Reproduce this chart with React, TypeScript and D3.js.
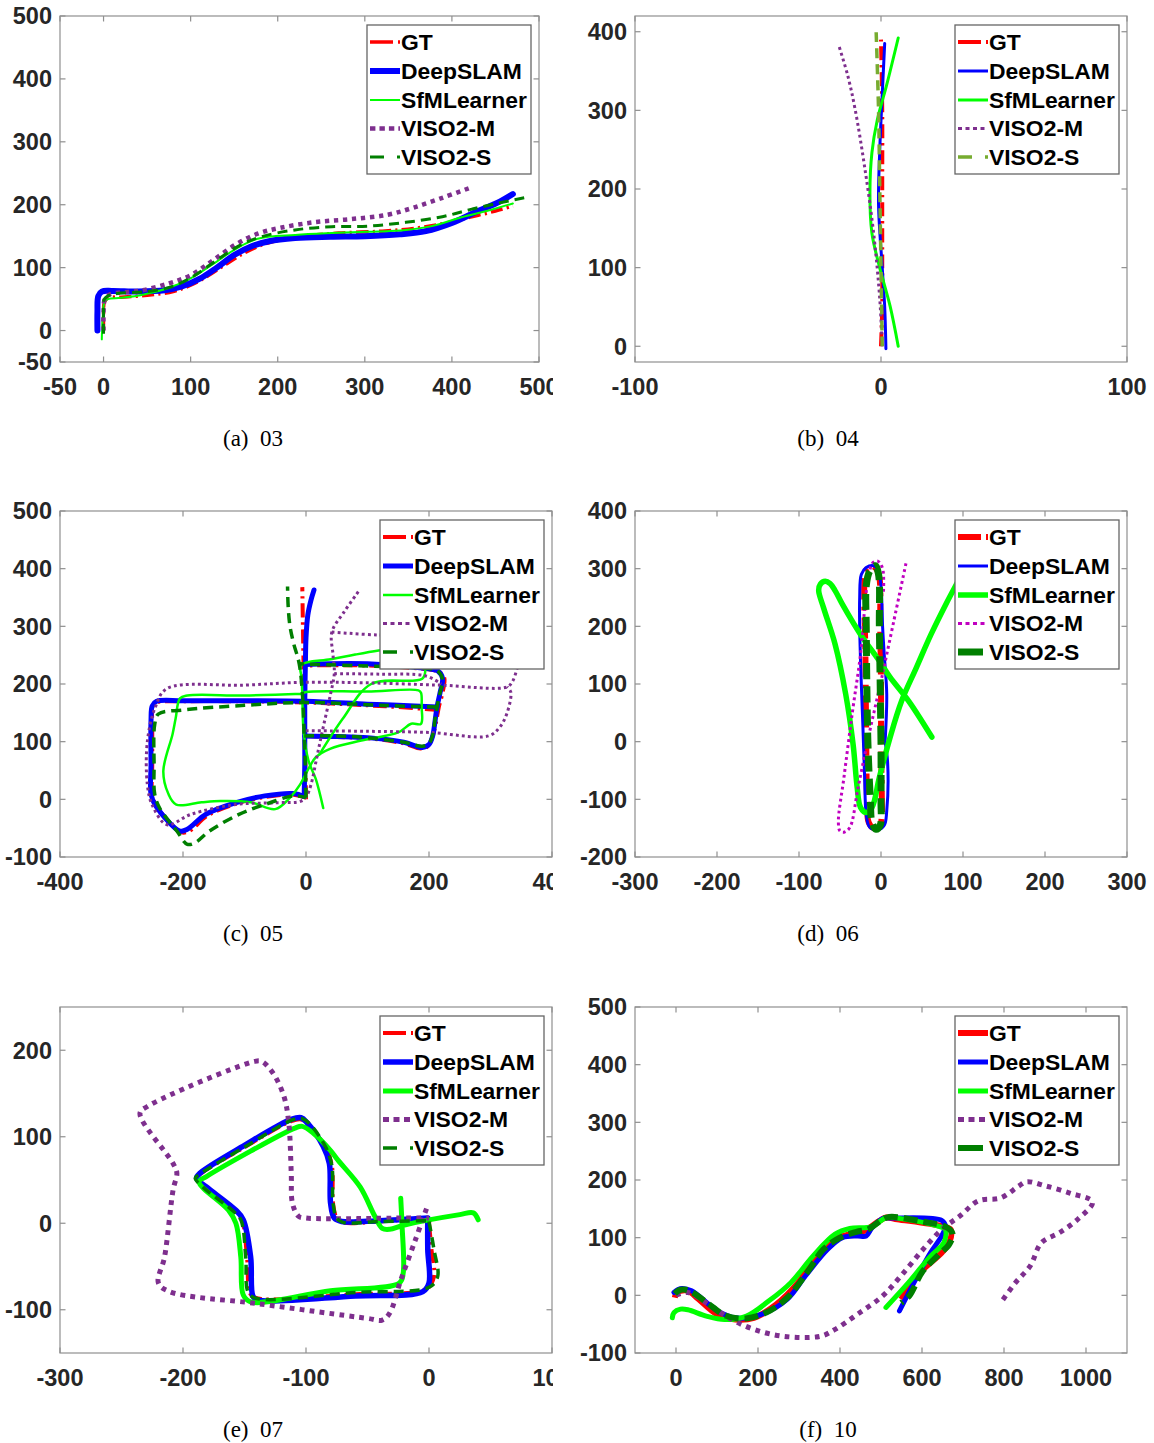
import React from 'react';
import * as d3 from 'd3';

type Pt = [number, number];
type Seg = Pt[];

const SERIES = ['GT', 'DeepSLAM', 'SfMLearner', 'VISO2-M', 'VISO2-S'];
const SUBLABELS = ['(a)', '(b)', '(c)', '(d)', '(e)', '(f)'];
const SEQUENCES = ['03', '04', '05', '06', '07', '10'];

// ---------- Sequence 03 ----------
const gt03: Seg[] = [[[0, 0], [0, 20], [1, 45], [5, 52], [20, 53], [50, 56], [80, 62], [100, 72], [120, 87], [140, 105], [160, 122], [180, 135], [200, 143], [230, 150], [270, 155], [320, 158], [360, 163], [390, 170], [420, 180], [450, 190], [470, 198]]];
const deep03: Seg[] = [[[-7, 0], [-7, 30], [-6, 55], [-2, 62], [10, 63], [40, 62], [70, 64], [90, 70], [110, 82], [130, 100], [150, 120], [170, 134], [190, 142], [220, 147], [260, 149], [300, 150], [340, 153], [370, 158], [400, 171], [430, 190], [455, 205], [470, 217]]];
const sfm03: Seg[] = [[[-2, -14], [-1, 20], [1, 45], [5, 50], [20, 52], [45, 57], [75, 68], [100, 83], [126, 106], [152, 130], [177, 146], [220, 152], [262, 155], [304, 157], [347, 160], [377, 166], [411, 180], [440, 190], [470, 202]]];
const viso2m03: Seg[] = [[[0, 0], [0, 30], [2, 52], [8, 58], [41, 63], [75, 75], [100, 88], [126, 112], [152, 137], [177, 154], [202, 163], [241, 172], [283, 177], [326, 184], [355, 195], [389, 211], [423, 228]]];
const viso2s03: Seg[] = [[[0, -5], [0, 25], [1, 50], [8, 57], [16, 59], [50, 62], [79, 70], [105, 88], [130, 112], [156, 135], [181, 149], [220, 160], [262, 165], [304, 166], [347, 172], [389, 181], [423, 193], [455, 203], [483, 211]]];

// ---------- Sequence 04 ----------
const gt04: Seg[] = [[[0, 0], [0.5, 50], [0.5, 100], [0.5, 200], [0.5, 300], [0, 390]]];
const deep04: Seg[] = [[[2, -3], [1.5, 50], [0.5, 100], [-1, 180], [-0.5, 250], [0.5, 320], [1.5, 385]]];
const sfm04: Seg[] = [[[7, 0], [3.7, 51], [-0.7, 102], [-3.7, 144], [-4.5, 195], [-3.7, 246], [-1.5, 288], [2.2, 331], [7, 392]]];
const viso2m04: Seg[] = [[[0.5, 0], [-0.5, 60], [-3, 144], [-6.7, 229], [-10.5, 301], [-13.5, 344], [-17, 381]]];
const viso2s04: Seg[] = [[[0.5, 0], [0, 100], [-0.5, 200], [-1, 300], [-2, 403]]];

// ---------- Sequence 05 ----------
const gt05: Seg[] = [
  [[0, 0], [-1, 60], [-2, 110], [-3, 170], [-4, 234], [-5, 300], [-6, 368]],
  [[-2, 110], [50, 108], [100, 106], [159, 97], [186, 88], [198, 92], [206, 110], [212, 137], [216, 160], [222, 185], [225, 210], [218, 220], [207, 224], [100, 232], [-3, 232]],
  [[216, 155], [150, 160], [100, 163], [0, 168], [-100, 170], [-200, 170], [-243, 168], [-250, 160], [-250, 137], [-250, 60], [-250, 9], [-243, -12], [-203, -57], [-190, -55], [-160, -28], [-115, -8], [-67, 4], [-20, 8], [0, 3]],
];
const deep05: Seg[] = [
  [[-3, 5], [-2, 60], [-2, 110], [-2, 170], [-1, 234], [0, 280], [3, 320], [8, 345], [13, 363]],
  [[-2, 110], [50, 109], [100, 107], [159, 99], [189, 90], [200, 95], [206, 110], [210, 137], [213, 160], [218, 185], [222, 210], [215, 222], [207, 225], [100, 235], [-1, 234]],
  [[213, 160], [150, 163], [100, 165], [0, 170], [-100, 171], [-200, 171], [-243, 170], [-250, 162], [-252, 137], [-252, 60], [-252, 9], [-245, -10], [-205, -55], [-193, -52], [-163, -26], [-115, -6], [-67, 6], [-20, 10], [-3, 5]],
];
const sfm05: Seg[] = [
  [[28, -15], [16, 35], [4, 67], [-4, 120], [-6, 180], [-7, 210], [-8, 233], [40, 243], [80, 251], [118, 258], [170, 266]],
  [[-6, 183], [-100, 180], [-193, 180], [-205, 175], [-212, 140], [-217, 113], [-232, 49], [-224, 10], [-211, -9], [-170, -5], [-139, -3], [-90, -5], [-50, -17], [-26, 3], [-10, 25], [5, 55], [16, 73], [40, 88], [90, 102], [150, 116], [171, 131], [187, 131], [188, 160], [187, 185], [183, 189], [100, 187], [0, 186], [-6, 183]],
  [[194, 224], [189, 209], [106, 200], [60, 140], [22, 78]],
];
const viso2m05: Seg[] = [
  [[85, 360], [62, 325], [42, 290], [44, 250], [46, 218], [40, 183], [28, 125], [18, 75], [8, 25], [1, 6], [-8, -3], [-50, -6], [-115, -9], [-187, -26], [-226, -44], [-250, -10], [-258, 26], [-258, 100], [-245, 160], [-226, 192], [-100, 198], [0, 203], [100, 202], [219, 198], [327, 195], [336, 205], [344, 230], [352, 260]],
  [[0, 119], [100, 118], [200, 116], [297, 110], [315, 125], [327, 150], [333, 186], [327, 195]],
  [[42, 290], [118, 285], [250, 283], [330, 280]],
  [[46, 218], [120, 217], [195, 214], [220, 200]],
];
const viso2s05: Seg[] = [
  [[0, 3], [-1, 60], [-3, 110], [-5, 170], [-11, 235], [-20, 270], [-26, 300], [-29, 335], [-30, 369]],
  [[-3, 110], [50, 110], [100, 107], [159, 99], [189, 92], [200, 97], [206, 112], [210, 140], [213, 160], [218, 185], [222, 208], [215, 222], [205, 226], [100, 231], [-11, 235]],
  [[213, 160], [150, 162], [100, 164], [0, 168], [-100, 163], [-200, 155], [-240, 148], [-246, 130], [-247, 60], [-246, 9], [-238, -15], [-210, -55], [-193, -78], [-180, -75], [-157, -55], [-109, -26], [-67, -9], [-20, 6], [0, 3]],
];

// ---------- Sequence 06 ----------
const gt06: Seg[] = [[[0, 0], [0, 100], [-1, 200], [-2, 285], [-6, 300], [-12, 305], [-18, 298], [-20, 285], [-19, 150], [-18, 0], [-17, -100], [-15, -140], [-9, -150], [-2, -147], [1, -130], [1, -100], [0, 0]]];
const deep06: Seg[] = [[[5, 0], [7, 82], [4, 150], [2, 198], [0, 270], [-3, 297], [-9, 305], [-18, 302], [-24, 290], [-26, 250], [-26, 198], [-24, 100], [-22, 24], [-20, -60], [-18, -126], [-14, -148], [-4, -153], [4, -145], [7, -120], [8, -34], [5, 0]]];
const sfm06: Seg[] = [[[62, 8], [34, 70], [11, 112], [-2, 140], [-25, 186], [-47, 238], [-56, 262], [-62, 274], [-68, 278], [-74, 273], [-76, 262], [-70, 232], [-56, 169], [-43, 82], [-34, -5], [-29, -80], [-25, -114], [-18, -123], [-11, -114], [-2, -62], [11, 7], [25, 70], [43, 128], [61, 186], [79, 238], [92, 273], [110, 320]]];
const viso2m06: Seg[] = [[[3, 260], [2, 300], [-4, 313], [-10, 310], [-16, 280], [-25, 151], [-35, 50], [-45, -60], [-52, -140], [-50, -155], [-45, -157], [-38, -149], [-28, -80], [-15, 10], [0, 105], [15, 205], [31, 313]]];
const viso2s06: Seg[] = [[[0, 0], [-1, 100], [-2, 200], [-3, 290], [-7, 305], [-14, 295], [-18, 270], [-18, 200], [-16, 0], [-13, -100], [-11, -140], [-6, -152], [-1, -145], [0, -100], [0, 0]]];

// ---------- Sequence 07 ----------
const gt07: Seg[] = [[[0, 0], [2, -30], [4, -62], [-2, -76], [-60, -82], [-139, -87], [-145, -82], [-148, -39], [-152, 4], [-158, 15], [-182, 42], [-189, 52], [-185, 58], [-150, 88], [-112, 118], [-104, 120], [-98, 114], [-84, 87], [-79, 67], [-78, 23], [-75, 6], [-70, 1], [-40, 2], [0, 4], [0, 0]]];
const deep07: Seg[] = [[[-1, 6], [-1, -30], [0, -69], [-5, -79], [-60, -84], [-139, -89], [-143, -85], [-145, -39], [-151, 4], [-157, 15], [-181, 42], [-189, 52], [-186, 58], [-150, 90], [-112, 120], [-104, 122], [-99, 116], [-86, 89], [-81, 69], [-80, 23], [-77, 6], [-71, 2], [-40, 3], [-1, 6]]];
const sfm07: Seg[] = [[[-23, 29], [-22, 0], [-21, -58], [-24, -69], [-80, -78], [-145, -91], [-151, -83], [-153, -39], [-157, 0], [-163, 15], [-187, 48], [-181, 54], [-109, 110], [-103, 112], [-94, 104], [-80, 84], [-74, 73], [-56, 42], [-44, 8], [-38, -6], [-32, -7], [-20, -2], [25, 10], [36, 12], [40, 4]]];
const viso2m07: Seg[] = [[[-2, 17], [-11, -19], [-23, -66], [-32, -104], [-38, -112], [-50, -110], [-139, -93], [-211, -79], [-220, -69], [-215, -39], [-208, 39], [-205, 58], [-208, 69], [-235, 127], [-229, 135], [-142, 187], [-136, 187], [-127, 174], [-118, 147], [-114, 116], [-112, 58], [-111, 23], [-106, 8], [-100, 6], [-20, 6], [0, 6]]];
const viso2s07: Seg[] = [[[0, 2], [4, -30], [7, -62], [0, -74], [-60, -80], [-140, -87], [-147, -80], [-149, -39], [-153, 4], [-160, 15], [-184, 42], [-190, 52], [-186, 57], [-150, 88], [-110, 120], [-103, 121], [-97, 115], [-84, 88], [-79, 67], [-78, 23], [-75, 6], [-70, 1], [-40, 2], [0, 3]]];

// ---------- Sequence 10 ----------
const gt10: Seg[] = [[[-3, -4], [2, 5], [11, 8], [29, 8], [56, -7], [101, -33], [145, -42], [190, -39], [244, -16], [298, 22], [343, 68], [388, 97], [424, 106], [460, 112], [496, 129], [513, 135], [540, 132], [648, 120], [670, 114], [666, 91], [648, 74], [594, 39], [549, -7]]];
const deep10: Seg[] = [[[-5, 5], [5, 10], [15, 12], [38, 8], [101, -27], [145, -39], [208, -33], [271, -7], [316, 34], [370, 80], [406, 100], [442, 103], [464, 103], [478, 117], [504, 133], [531, 134], [648, 130], [657, 120], [648, 103], [621, 74], [585, 28], [545, -27]]];
const sfm10: Seg[] = [[[-9, -39], [-5, -30], [11, -24], [29, -25], [74, -36], [118, -42], [172, -36], [226, -10], [280, 22], [334, 68], [388, 106], [424, 116], [478, 119], [513, 135], [549, 133], [639, 120], [657, 114], [653, 91], [621, 68], [567, 22], [512, -21]]];
const viso2m10: Seg[] = [[[0, 0], [29, 5], [74, -13], [136, -42], [190, -59], [262, -71], [352, -71], [388, -59], [442, -33], [504, -1], [549, 34], [603, 80], [648, 114], [693, 138], [738, 164], [792, 169], [837, 190], [855, 197], [900, 190], [962, 177], [1016, 162], [980, 132], [936, 109], [891, 91], [864, 51], [828, 22], [792, -13]]];
const viso2s10: Seg[] = [[[-3, 3], [8, 9], [20, 10], [40, 5], [80, -15], [120, -35], [170, -40], [220, -30], [270, -5], [320, 40], [360, 80], [400, 100], [440, 110], [470, 115], [500, 130], [520, 136], [600, 128], [660, 118], [675, 106], [666, 88], [640, 70], [600, 40], [570, 0], [549, -13]]];

const DATA: Seg[][][] = [
  [gt03, deep03, sfm03, viso2m03, viso2s03],
  [gt04, deep04, sfm04, viso2m04, viso2s04],
  [gt05, deep05, sfm05, viso2m05, viso2s05],
  [gt06, deep06, sfm06, viso2m06, viso2s06],
  [gt07, deep07, sfm07, viso2m07, viso2s07],
  [gt10, deep10, sfm10, viso2m10, viso2s10],
];

// axis domains and ticks
const X_DOMAINS: [number, number][] = [[-50, 500], [-100, 100], [-400, 400], [-300, 300], [-300, 100], [-100, 1100]];
const Y_DOMAINS: [number, number][] = [[-50, 500], [-20, 420], [-100, 500], [-200, 400], [-150, 250], [-100, 500]];
const X_TICKS: number[][] = [
  [-50, 0, 100, 200, 300, 400, 500],
  [-100, 0, 100],
  [-400, -200, 0, 200, 400],
  [-300, -200, -100, 0, 100, 200, 300],
  [-300, -200, -100, 0, 100],
  [0, 200, 400, 600, 800, 1000],
];
const Y_TICKS: number[][] = [
  [-50, 0, 100, 200, 300, 400, 500],
  [0, 100, 200, 300, 400],
  [-100, 0, 100, 200, 300, 400, 500],
  [-200, -100, 0, 100, 200, 300, 400],
  [-100, 0, 100, 200],
  [-100, 0, 100, 200, 300, 400, 500],
];

// ---------- layout & styles ----------
const FRAMES = [
  { x0: 60, x1: 539, y0: 16, y1: 362 },
  { x0: 635, x1: 1127, y0: 16, y1: 362 },
  { x0: 60, x1: 552, y0: 511, y1: 857 },
  { x0: 635, x1: 1127, y0: 511, y1: 857 },
  { x0: 60, x1: 552, y0: 1007, y1: 1353 },
  { x0: 635, x1: 1127, y0: 1007, y1: 1353 },
];
const LEGENDS = [
  { x: 367, y: 25 }, { x: 955, y: 25 },
  { x: 380, y: 520 }, { x: 955, y: 520 },
  { x: 380, y: 1016 }, { x: 955, y: 1016 },
];
const TITLES = [
  { x: 253, y: 446 }, { x: 828, y: 446 },
  { x: 253, y: 941 }, { x: 828, y: 941 },
  { x: 253, y: 1437 }, { x: 828, y: 1437 },
];
const BASE_COLORS = ['#FF0000', '#0000FF', '#00FF00', '#7E2F8E', '#007F00'];
const COLORS: string[][] = [
  BASE_COLORS,
  ['#FF0000', '#0000FF', '#00FF00', '#7E2F8E', '#77AC30'],
  BASE_COLORS,
  ['#FF0000', '#0000FF', '#00FF00', '#C000C0', '#007F00'],
  BASE_COLORS,
  BASE_COLORS,
];
const WIDTHS: number[][] = [
  [3.5, 6, 2, 4.5, 3],
  [4, 3, 3, 3, 3.5],
  [4, 5, 2.5, 3, 3.5],
  [6, 3, 5.5, 3, 7],
  [4, 5.5, 5, 5, 3.5],
  [6, 5, 5, 5, 6],
];
const STYLES = ['dashdot', 'solid', 'solid', 'dotted', 'dashed'];

function dashFor(style: string, w: number, panel: number, series: number): string | undefined {
  if (panel === 5 && series === 0) return undefined;
  if (style === 'dashdot') return `${w * 3.5} ${w * 1.2} ${w * 0.6} ${w * 1.2}`;
  if (style === 'dotted') return `${w * 0.95} ${w * 1.05}`;
  if (style === 'dashed') return `${Math.max(10, w * 2.3)} ${Math.max(6, w)}`;
  return undefined;
}
function legendDash(style: string, w: number, panel: number): string | undefined {
  if (style === 'dashdot') return panel === 5 ? undefined : '23 5 3 10';
  if (style === 'dotted') return `${Math.max(4, w * 1.2)} ${Math.max(3.5, w * 0.9)}`;
  if (style === 'dashed') return panel === 3 || panel === 5 ? '25 20' : '14 13 3 10';
  return undefined;
}

const TICK_FONT = "'Liberation Sans', Arial, sans-serif";
const TITLE_FONT = "'Liberation Serif', 'Times New Roman', serif";

function Panel({ i }: { i: number }) {
  const f = FRAMES[i];
  const xs = d3.scaleLinear().domain(X_DOMAINS[i]).range([f.x0, f.x1]);
  const ys = d3.scaleLinear().domain(Y_DOMAINS[i]).range([f.y1, f.y0]);
  const line = d3.line<Pt>().x((d) => xs(d[0])).y((d) => ys(d[1])).curve(d3.curveCatmullRom.alpha(0.5));
  const tl = 5.5;
  const lg = LEGENDS[i];
  const rowOff = [17, 46, 75, 103.5, 132];
  return (
    <g>
      <defs>
        <clipPath id={`plotclip${i}`}>
          <rect x={f.x0} y={f.y0} width={f.x1 - f.x0} height={f.y1 - f.y0} />
        </clipPath>
      </defs>
      <rect x={f.x0} y={f.y0} width={f.x1 - f.x0} height={f.y1 - f.y0} fill="#fff" />
      {X_TICKS[i].map((t) => (
        <g key={`xt${t}`}>
          <line x1={xs(t)} x2={xs(t)} y1={f.y1} y2={f.y1 - tl} stroke="#8f8f8f" strokeWidth={1.2} />
          <line x1={xs(t)} x2={xs(t)} y1={f.y0} y2={f.y0 + tl} stroke="#8f8f8f" strokeWidth={1.2} />
          <text x={xs(t)} y={f.y1 + 33} textAnchor="middle" fontFamily={TICK_FONT} fontWeight="bold" fontSize={23.5} fill="#262626">{t}</text>
        </g>
      ))}
      {Y_TICKS[i].map((t) => (
        <g key={`yt${t}`}>
          <line x1={f.x0} x2={f.x0 + tl} y1={ys(t)} y2={ys(t)} stroke="#8f8f8f" strokeWidth={1.2} />
          <line x1={f.x1} x2={f.x1 - tl} y1={ys(t)} y2={ys(t)} stroke="#8f8f8f" strokeWidth={1.2} />
          <text x={f.x0 - 8} y={ys(t) + 8.3} textAnchor="end" fontFamily={TICK_FONT} fontWeight="bold" fontSize={23.5} fill="#262626">{t}</text>
        </g>
      ))}
      <g clipPath={`url(#plotclip${i})`}>
        {DATA[i].map((segs, s) =>
          segs.map((seg, k) => (
            <path
              key={`s${s}-${k}`}
              d={line(seg) || ''}
              fill="none"
              stroke={COLORS[i][s]}
              strokeWidth={WIDTHS[i][s]}
              strokeDasharray={dashFor(STYLES[s], WIDTHS[i][s], i, s)}
              strokeLinejoin="round"
              strokeLinecap={STYLES[s] === 'solid' ? 'round' : 'butt'}
            />
          ))
        )}
      </g>
      <rect x={f.x0} y={f.y0} width={f.x1 - f.x0} height={f.y1 - f.y0} fill="none" stroke="#8f8f8f" strokeWidth={1.2} />
      <rect x={lg.x} y={lg.y} width={164} height={149} fill="#fff" stroke="#666" strokeWidth={1.3} />
      {SERIES.map((name, s) => (
        <g key={`lg${s}`}>
          <line
            x1={lg.x + 3}
            x2={lg.x + 33}
            y1={lg.y + rowOff[s]}
            y2={lg.y + rowOff[s]}
            stroke={COLORS[i][s]}
            strokeWidth={WIDTHS[i][s]}
            strokeDasharray={legendDash(STYLES[s], WIDTHS[i][s], i)}
          />
          <text
            transform={`translate(${lg.x + 34},${lg.y + rowOff[s] + 7.8}) scale(1.065,1)`}
            fontFamily={TICK_FONT}
            fontWeight="bold"
            fontSize={21.5}
            fill="#000"
          >
            {name}
          </text>
        </g>
      ))}
      <text x={TITLES[i].x} y={TITLES[i].y} textAnchor="middle" fontFamily={TITLE_FONT} fontSize={23} fill="#000" style={{ whiteSpace: 'pre' }}>
        {`${SUBLABELS[i]}  ${SEQUENCES[i]}`}
      </text>
    </g>
  );
}

export default function App() {
  return (
    <svg width={1154} height={1443} viewBox="0 0 1154 1443" style={{ position: 'absolute', left: 0, top: 0, background: '#fff' }}>
      <defs>
        <clipPath id="leftcol">
          <rect x={0} y={0} width={553} height={1443} />
        </clipPath>
      </defs>
      <rect x={0} y={0} width={1154} height={1443} fill="#fff" />
      <g clipPath="url(#leftcol)">
        <Panel i={0} />
        <Panel i={2} />
        <Panel i={4} />
      </g>
      <Panel i={1} />
      <Panel i={3} />
      <Panel i={5} />
    </svg>
  );
}
